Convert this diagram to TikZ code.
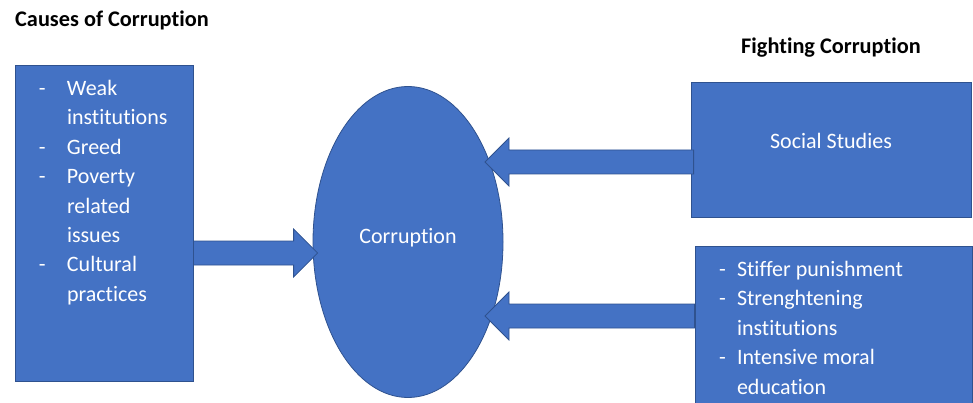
\documentclass[tikz,border=0pt]{standalone}
\usepackage{fontspec}
\setmainfont[Ligatures=NoCommon]{Carlito}
\usetikzlibrary{shapes.geometric,calc}
\definecolor{boxblue}{HTML}{4472C4}
\definecolor{boxedge}{HTML}{2F528F}
% wide arrow from a shaft start to a tip
\newcommand{\blockarrow}[2]{%
  \coordinate (hb) at ($(#2)!24pt!(#1)$);
  \draw[blockarr] ($(#1)+(0,-12)$) -- ($(hb)+(0,-12)$) -- ($(hb)+(0,-24)$) -- (#2)
    -- ($(hb)+(0,24)$) -- ($(hb)+(0,12)$) -- ($(#1)+(0,12)$) -- cycle;}
\begin{document}
\begin{tikzpicture}[x=1pt,y=-1pt,
  box/.style={draw=boxedge, fill=boxblue, line width=0.8pt, inner sep=0pt, text=white,
    font=\fontsize{22}{29.4}\selectfont},
  blockarr/.style={draw=boxedge, fill=boxblue, line width=0.8pt, line join=miter},
  heading/.style={font=\fontsize{22.3}{25}\selectfont\bfseries, inner sep=0pt, anchor=base west}]
\useasboundingbox (0,0) rectangle (973,403);

\node[heading] (causeshead) at (15,26.5) {Causes of Corruption};
\node[heading] (fighthead) at (741,54) {Fighting Corruption};

\node[box, minimum width=178, minimum height=316] (causes) at (104,223)
  {\begin{minipage}[c][316pt][t]{178pt}\vspace*{10pt}%
   \hspace*{24pt}\makebox[28pt][l]{-}Weak\strut\\
   \hspace*{52pt}institutions\strut\\
   \hspace*{24pt}\makebox[28pt][l]{-}Greed\strut\\
   \hspace*{24pt}\makebox[28pt][l]{-}Poverty\strut\\
   \hspace*{52pt}related\strut\\
   \hspace*{52pt}issues\strut\\
   \hspace*{24pt}\makebox[28pt][l]{-}Cultural\strut\\
   \hspace*{52pt}practices\strut
   \end{minipage}};

\node[box, ellipse, minimum width=190, minimum height=311] (corr) at (408,242)
  {\raisebox{4pt}[\height][\depth]{Corruption}};

\node[box, minimum width=280, minimum height=135] (social) at (831,149.5)
  {\begin{minipage}[c][135pt][t]{280pt}\centering\vspace*{46pt}%
   \strut Social Studies
   \end{minipage}};

\node[box, minimum width=277, minimum height=184] (fight) at (833.5,338)
  {\begin{minipage}[c][184pt][t]{277pt}\vspace*{10pt}%
   \hspace*{24pt}\makebox[18pt][l]{-}Stiffer punishment\strut\\
   \hspace*{24pt}\makebox[18pt][l]{-}Strenghtening\strut\\
   \hspace*{42pt}institutions\strut\\
   \hspace*{24pt}\makebox[18pt][l]{-}Intensive moral\strut\\
   \hspace*{42pt}education\strut
   \end{minipage}};

\coordinate (a1s) at ($(causes.east)+(0,30)$);
\coordinate (a1t) at ($(corr.west)+(5,11)$);
\coordinate (a2s) at ($(social.west)+(3,12.5)$);
\coordinate (a2t) at ($(corr.center)+(77,-80)$);
\coordinate (a3s) at ($(fight.west)+(0,-22)$);
\coordinate (a3t) at ($(corr.center)+(77,74)$);

\blockarrow{a1s}{a1t}
\blockarrow{a2s}{a2t}
\blockarrow{a3s}{a3t}

\end{tikzpicture}
\end{document}
